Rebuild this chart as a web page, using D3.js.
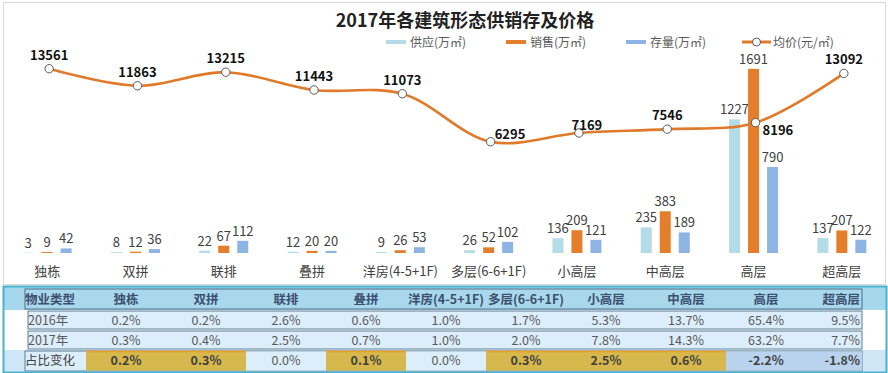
<!DOCTYPE html>
<html>
<head>
<meta charset="utf-8">
<script src="https://cdn.jsdelivr.net/npm/d3@7"></script>
<style>
  body { margin: 0; background: #fff; }
  svg { display: block; font-family: "Noto Sans CJK SC", "Noto Sans", sans-serif; }
</style>
</head>
<body>
<script>
// 数据
var categories = ["独栋", "双拼", "联排", "叠拼", "洋房(4-5+1F)", "多层(6-6+1F)", "小高层", "中高层", "高层", "超高层"];
var supply = [3, 8, 22, 12, 9, 26, 136, 235, 1227, 137];
var sales = [9, 12, 67, 20, 26, 52, 209, 383, 1691, 207];
var stock = [42, 36, 112, 20, 53, 102, 121, 189, 790, 122];
var price = [13561, 11863, 13215, 11443, 11073, 6295, 7169, 7546, 8196, 13092];
var share2016 = [0.2, 0.2, 2.6, 0.6, 1.0, 1.7, 5.3, 13.7, 65.4, 9.5];
var share2017 = [0.3, 0.4, 2.5, 0.7, 1.0, 2.0, 7.8, 14.3, 63.2, 7.7];
var shareChange = [0.2, 0.3, 0.0, 0.1, 0.0, 0.3, 2.5, 0.6, -2.2, -1.8];
var seriesNames = ["供应(万㎡)", "销售(万㎡)", "存量(万㎡)", "均价(元/㎡)"];
var rowNames = ["物业类型", "2016年", "2017年", "占比变化"];

var W = 888, H = 373;
var colors = { supply: "#b4dce8", sales: "#e57e2b", stock: "#8db4e2", line: "#e07a2a" };

var svg = d3.select("body").append("svg")
    .attr("width", W)
    .attr("height", H);

// 图表框
svg.append("rect")
    .attr("x", 3.5).attr("y", 2.5)
    .attr("width", 882).attr("height", 282)
    .attr("fill", "#fff")
    .attr("stroke", "#d9d9d9");

var x = d3.scaleBand().domain(categories).range([3, 886]);
var y = d3.scaleLinear().domain([0, 1800]).range([253, 57]);
var y2 = d3.scaleLinear().domain([0, 16000]).range([205, 44.2]);
var cx = function(i) { return x(categories[i]) + x.bandwidth() / 2; };

// 标题
svg.append("text")
    .attr("x", 465).attr("y", 27)
    .attr("text-anchor", "middle")
    .attr("font-size", 18).attr("font-weight", "bold")
    .attr("fill", "#222")
    .text("2017年各建筑形态供销存及价格");

// 图例
var legendX = [386, 506, 626, 742];
var leg = svg.append("g").attr("font-size", 12).attr("fill", "#595959");
[colors.supply, colors.sales, colors.stock].forEach(function(c, i) {
  leg.append("line").attr("x1", legendX[i]).attr("x2", legendX[i] + 20)
     .attr("y1", 42).attr("y2", 42).attr("stroke", c).attr("stroke-width", 4);
  leg.append("text").attr("x", legendX[i] + 24).attr("y", 46.5).text(seriesNames[i]);
});
leg.append("line").attr("x1", 742).attr("x2", 771).attr("y1", 42).attr("y2", 42)
   .attr("stroke", colors.line).attr("stroke-width", 3);
leg.append("circle").attr("cx", 756.5).attr("cy", 42).attr("r", 4)
   .attr("fill", "#fff").attr("stroke", "#595959");
leg.append("text").attr("x", 773).attr("y", 46.5).text(seriesNames[3]);

// 柱
var series = [
  { vals: supply, color: colors.supply, off: -19 },
  { vals: sales, color: colors.sales, off: 0 },
  { vals: stock, color: colors.stock, off: 19 }
];
var barW = 11;
series.forEach(function(s) {
  var g = svg.append("g");
  g.selectAll("rect").data(s.vals).enter().append("rect")
    .attr("x", function(d, i) { return cx(i) + s.off - barW / 2; })
    .attr("y", function(d) { return y(d); })
    .attr("width", barW)
    .attr("height", function(d) { return y(0) - y(d); })
    .attr("fill", s.color);
  g.selectAll("text").data(s.vals).enter().append("text")
    .attr("x", function(d, i) { return cx(i) + s.off; })
    .attr("y", function(d) { return y(d) - 5; })
    .attr("text-anchor", "middle")
    .attr("font-size", 13)
    .attr("fill", "#404040")
    .text(function(d) { return d; });
});

// 类别轴
svg.append("g")
    .attr("transform", "translate(0," + 255 + ")")
    .call(d3.axisBottom(x).tickSize(0).tickPadding(12))
    .call(function(g) { g.select(".domain").remove(); })
    .selectAll("text")
    .attr("font-size", 13)
    .attr("fill", "#404040")
    .attr("font-family", "Noto Sans CJK SC, sans-serif");

// 均价线
var line = d3.line()
    .x(function(d, i) { return cx(i) + 2; })
    .y(function(d) { return y2(d); })
    .curve(d3.curveCatmullRom.alpha(0.5));
svg.append("path")
    .datum(price)
    .attr("d", line)
    .attr("fill", "none")
    .attr("stroke", colors.line)
    .attr("stroke-width", 2.6);
svg.append("g").selectAll("circle").data(price).enter().append("circle")
    .attr("cx", function(d, i) { return cx(i) + 2; })
    .attr("cy", function(d) { return y2(d); })
    .attr("r", 4.2)
    .attr("fill", "#fff")
    .attr("stroke", "#595959");

// 标签偏移 (dx, dy, anchor)
var lblOff = { 5: [4, -3, "start"], 6: [8, -3, "middle"], 8: [7, 12, "start"] };
svg.append("g").selectAll("text").data(price).enter().append("text")
    .attr("x", function(d, i) { return cx(i) + 2 + (lblOff[i] ? lblOff[i][0] : 0); })
    .attr("y", function(d, i) { return y2(d) + (lblOff[i] ? lblOff[i][1] : -9); })
    .attr("text-anchor", function(d, i) { return lblOff[i] ? lblOff[i][2] : "middle"; })
    .attr("font-size", 13)
    .attr("font-weight", "bold")
    .attr("fill", "#111")
    .text(function(d) { return d; });

// 表格
var tx = d3.scaleBand().domain(categories).range([86, 886]);
var rowY = [288, 310, 330, 350, 371];
var tb = svg.append("g");
tb.append("rect").attr("x", 3).attr("y", 286).attr("width", 884).attr("height", 87)
  .attr("fill", "#fff");
tb.append("rect").attr("x", 3).attr("y", 286).attr("width", 884).attr("height", 24)
  .attr("fill", "#a7d7ea");
tb.append("rect").attr("x", 3).attr("y", 350).attr("width", 884).attr("height", 23)
  .attr("fill", "#cfe6f6");
// 行底色
[1, 2].forEach(function(r) {
  tb.append("rect").attr("x", 28).attr("y", rowY[r] + 1).attr("width", 834).attr("height", rowY[r + 1] - rowY[r] - 2)
    .attr("fill", "#dcedfb").attr("stroke", "#5f7f94").attr("stroke-width", 1);
});
tb.append("rect").attr("x", 25).attr("y", 289).attr("width", 837).attr("height", 20)
  .attr("fill", "#a9d8ec").attr("stroke", "#4f6f88");
tb.append("rect").attr("x", 25).attr("y", 351).attr("width", 837).attr("height", 20)
  .attr("fill", "#ddeefb").attr("stroke", "#5f7f94");
// 变化格
tb.selectAll(".chg").data(shareChange).enter().append("rect")
  .attr("x", function(d, i) { return tx(categories[i]); })
  .attr("y", 351.5)
  .attr("width", function(d, i) { return i === 9 ? 862 - tx(categories[i]) : tx.bandwidth(); })
  .attr("height", 19)
  .attr("fill", function(d) { return d > 0 ? "#d6b84c" : d < 0 ? "#b9d3ee" : "#ddeefb"; });
tb.selectAll(".chgl").data(shareChange).enter().append("line")
  .attr("x1", function(d, i) { return tx(categories[i]); })
  .attr("x2", function(d, i) { return tx(categories[i]) + tx.bandwidth(); })
  .attr("y1", 351.5).attr("y2", 351.5)
  .attr("stroke", function(d) { return d > 0 ? "#f0a020" : "none"; })
  .attr("stroke-width", 1.5);
// 外框
tb.append("rect").attr("x", 3.5).attr("y", 286.5).attr("width", 883).attr("height", 86)
  .attr("fill", "none").attr("stroke", "#46b4cf").attr("stroke-width", 2);

// 表格文字
var tcx = function(i) { return i === 9 ? 860 : tx(categories[i]) + tx.bandwidth() / 2; };
var tanchor = function(i) { return i === 9 ? "end" : "middle"; };
var pct = function(d) { return d.toFixed(1) + "%"; };
var rowsData = [
  { name: rowNames[0], vals: categories, weight: function() { return "bold"; }, fill: "#3b4f6e", fmt: function(d) { return d; } },
  { name: rowNames[1], vals: share2016, weight: function() { return "normal"; }, fill: "#595959", fmt: pct },
  { name: rowNames[2], vals: share2017, weight: function() { return "normal"; }, fill: "#595959", fmt: pct },
  { name: rowNames[3], vals: shareChange, weight: function(d) { return d === 0 ? "normal" : "bold"; }, fill: "#404040", fmt: pct }
];
rowsData.forEach(function(r, ri) {
  var ty = (rowY[ri] + rowY[ri + 1]) / 2 + 4.5;
  var g = tb.append("g").attr("font-size", 12.5);
  g.append("text").attr("x", ri === 0 || ri === 3 ? 25 : 28).attr("y", ty)
    .attr("fill", r.fill).attr("font-weight", ri === 0 ? "bold" : "normal")
    .text(r.name);
  g.selectAll(".v").data(r.vals).enter().append("text")
    .attr("x", function(d, i) { return tcx(i); })
    .attr("y", ty)
    .attr("text-anchor", function(d, i) { return tanchor(i); })
    .attr("font-weight", r.weight)
    .attr("fill", function(d) { return ri === 3 && d === 0 ? "#595959" : r.fill; })
    .text(r.fmt);
});
</script>
</body>
</html>
